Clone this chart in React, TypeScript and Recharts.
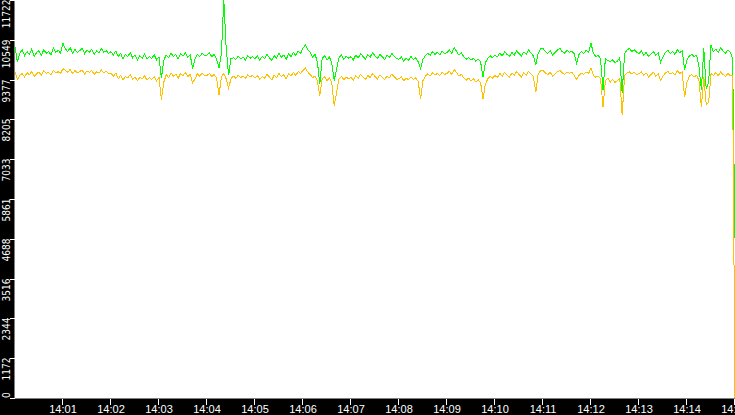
import React from 'react';
import { CartesianGrid, Line, LineChart, XAxis, YAxis } from 'recharts';

// one sample every 3 seconds, starting at 14:00:00
const SAMPLE_STEP = 3;

const upperSeries = [
  10330, 9900, 10150, 10250, 10080, 10200, 10120, 10280, 10050, 10180, 10230, 10090, 10260, 10150, 10210, 10100, 10300, 10180, 10240, 10160,
  10450, 10280, 10200, 10320, 10150, 10260, 10180, 10230, 10300, 10140, 10250, 10190, 10270, 10120, 10220, 10160, 10290, 10180, 10230, 10150,
  10200, 10100, 10220, 10050, 10150, 9980, 10120, 10060, 10180, 10020, 10100, 9950, 10080, 10010, 10130, 9980, 10060, 10000, 10110, 9960,
  10050, 9420, 9950, 10100, 10020, 10150, 10060, 10120, 9990, 10130, 10070, 10160, 10040, 10110, 9700, 9980, 10120, 10060, 10150, 10080,
  10100, 10160, 10050, 10130, 9980, 9720, 10150, 11722, 10300, 9500, 10000, 10020, 9970, 10060, 9990, 10040, 9960, 10080, 10010, 10050,
  10000, 10080, 9950, 10060, 9990, 10120, 10020, 9940, 10090, 10010, 10150, 10040, 10100, 9980, 10130, 10060, 10180, 10090, 10220, 10150,
  10300, 10400, 10250, 10180, 10050, 10120, 9900, 9250, 10000, 10080, 9950, 10050, 9850, 9350, 9700, 10020, 10100, 9980, 10060, 10010,
  10050, 9960, 10100, 10020, 10140, 10060, 9980, 10110, 10040, 10170, 10080, 10000, 10120, 10050, 9970, 10090, 10030, 10150, 10060, 9990,
  9980, 10040, 9920, 10010, 9950, 10060, 9970, 10020, 9900, 9700, 9980, 10080, 10150, 10090, 10200, 10120, 10180, 10100, 10220, 10140,
  10180, 10250, 10150, 10330, 10200, 10100, 10160, 10050, 9980, 10030, 9950, 10000, 9920, 9980, 9900, 9450, 9880, 10000, 10080, 10020,
  10100, 10050, 10160, 10080, 10200, 10120, 10060, 10180, 10100, 10230, 10140, 10070, 10190, 10120, 10250, 10160, 10080, 9800, 10150, 10280,
  10300, 10200, 10150, 10230, 10100, 10180, 10250, 10300, 10200, 10160, 10240, 10180, 10220, 10140, 9860, 10120, 10200, 10150, 10240, 10180,
  10450, 10150, 10050, 10100, 9980, 9070, 10000, 9940, 9900, 9960, 9880, 9920, 10020, 8980, 10150, 10250, 10300, 10200, 10260, 10180,
  10150, 10220, 10100, 10180, 10060, 10130, 10200, 10090, 10160, 9890, 10050, 10180, 10240, 10150, 10200, 10120, 10260, 10170, 10230, 9660,
  9950, 10080, 10120, 10050, 10100, 9750, 9070, 10300, 9100, 9300, 10400, 10200, 10280, 10180, 10320, 10220, 10150, 10250, 10180, 10010,
  4700,
];

const lowerSeries = [
  9600, 9380, 9500, 9560, 9450, 9580, 9520, 9620, 9480, 9550, 9600, 9500, 9640, 9560, 9590, 9520, 9650, 9580, 9610, 9560,
  9700, 9650, 9590, 9680, 9560, 9640, 9580, 9620, 9660, 9540, 9630, 9590, 9650, 9530, 9610, 9570, 9660, 9580, 9620, 9560,
  9560, 9480, 9570, 9400, 9500, 9360, 9470, 9430, 9520, 9390, 9460, 9350, 9440, 9400, 9490, 9360, 9440, 9380, 9470, 9340,
  9450, 8780, 9300, 9520, 9440, 9580, 9480, 9540, 9420, 9560, 9490, 9590, 9460, 9530, 9280, 9400, 9550, 9480, 9570, 9500,
  9500, 9560, 9470, 9530, 9420, 8920, 9450, 9560, 9400, 9130, 9400, 9480, 9420, 9500, 9430, 9490, 9410, 9520, 9460, 9500,
  9430, 9500, 9380, 9470, 9420, 9540, 9450, 9370, 9510, 9440, 9560, 9460, 9520, 9400, 9550, 9480, 9590, 9500, 9620, 9560,
  9650, 9720, 9600, 9520, 9440, 9480, 9330, 8900, 9400, 9460, 9350, 9430, 9280, 8600, 9000, 9400, 9470, 9380, 9450, 9400,
  9440, 9370, 9490, 9420, 9530, 9460, 9380, 9500, 9440, 9560, 9470, 9400, 9510, 9450, 9380, 9480, 9430, 9540, 9460, 9390,
  9400, 9450, 9340, 9420, 9370, 9460, 9380, 9430, 9320, 8800, 9350, 9480, 9550, 9490, 9580, 9510, 9560, 9500, 9600, 9530,
  9560, 9620, 9520, 9680, 9580, 9480, 9530, 9430, 9360, 9420, 9330, 9400, 9310, 9370, 9290, 8800, 9250, 9400, 9480, 9420,
  9500, 9440, 9560, 9480, 9590, 9520, 9450, 9570, 9500, 9610, 9530, 9460, 9580, 9510, 9620, 9550, 9470, 9000, 9540, 9640,
  9650, 9570, 9520, 9600, 9480, 9550, 9610, 9650, 9580, 9530, 9600, 9560, 9590, 9500, 9380, 9500, 9570, 9530, 9600, 9560,
  9720, 9500, 9450, 9480, 9400, 8570, 9350, 9420, 9300, 9380, 9290, 9350, 9400, 8330, 9500, 9580, 9600, 9540, 9590, 9520,
  9550, 9600, 9500, 9570, 9460, 9530, 9590, 9480, 9550, 9360, 9480, 9570, 9620, 9540, 9590, 9520, 9630, 9560, 9600, 8860,
  9300, 9480, 9520, 9460, 9500, 9350, 8570, 9450, 8650, 8700, 9550, 9500, 9580, 9490, 9600, 9530, 9470, 9560, 9500, 9510,
  0,
];

const valueTicks = [0, 1172, 2344, 3516, 4688, 5861, 7033, 8205, 9377, 10549, 11722];
const timeTicks = [60, 120, 180, 240, 300, 360, 420, 480, 540, 600, 660, 720, 780, 840, 900];
const timeLabels = [
  '14:01', '14:02', '14:03', '14:04', '14:05', '14:06', '14:07', '14:08',
  '14:09', '14:10', '14:11', '14:12', '14:13', '14:14', '14:15',
];

const data = upperSeries.map((u, i) => ({
  t: i * SAMPLE_STEP,
  upper: u,
  lower: lowerSeries[i],
}));

const TICK_FONT = "'Liberation Sans Narrow', 'DejaVu Sans Condensed', 'Liberation Sans', Arial, sans-serif";

function ValueTick(props: any) {
  const { y, payload } = props;
  const py = Math.round(y) + 0.5;
  const atZero = payload.value === 0;
  return (
    <g>
      <line x1={10} x2={15} y1={py} y2={py} stroke="#fff" />
      <text
        x={9.5}
        y={atZero ? 398 : py - 1}
        transform={`rotate(-90 9.5 ${atZero ? 398 : py - 1})`}
        textAnchor={atZero ? 'start' : 'end'}
        fill="#fff"
        fontSize={10}
        fontFamily={TICK_FONT}
      >
        {payload.value}
      </text>
    </g>
  );
}

function TimeTick(props: any) {
  const { x, payload } = props;
  const px = Math.round(x) - 0.5;
  const label = timeLabels[timeTicks.indexOf(payload.value)];
  return (
    <g>
      <line x1={px} x2={px} y1={399} y2={405} stroke="#fff" />
      <text
        x={x}
        y={413}
        textAnchor="middle"
        fill="#fff"
        fontSize={11}
        fontFamily="'Liberation Sans', Arial, sans-serif"
      >
        {label}
      </text>
    </g>
  );
}

export default function App() {
  return (
    <div style={{ position: 'absolute', left: 0, top: 0, width: 735, height: 415, background: '#000' }}>
      <style>{'.recharts-line-curve { shape-rendering: crispEdges; }'}</style>
      <LineChart
        width={735}
        height={415}
        data={data}
        margin={{ top: 0, right: 0, left: 0, bottom: 0 }}
      >
        <CartesianGrid stroke="#fff" fill="#fff" fillOpacity={1} />
        <XAxis
          dataKey="t"
          type="number"
          domain={[0, 900]}
          ticks={timeTicks}
          interval={0}
          height={17}
          axisLine={false}
          tickLine={false}
          tick={<TimeTick />}
        />
        <YAxis
          type="number"
          domain={[0, 11722]}
          allowDataOverflow
          ticks={valueTicks}
          interval={0}
          width={15}
          axisLine={false}
          tickLine={false}
          tick={<ValueTick />}
        />
        <Line
          type="linear"
          dataKey="upper"
          stroke="#00ff00"
          strokeWidth={1}
          dot={false}
          activeDot={false}
          isAnimationActive={false}
        />
        <Line
          type="linear"
          dataKey="lower"
          stroke="#ffc000"
          strokeWidth={1}
          dot={false}
          activeDot={false}
          isAnimationActive={false}
        />
      </LineChart>
    </div>
  );
}
